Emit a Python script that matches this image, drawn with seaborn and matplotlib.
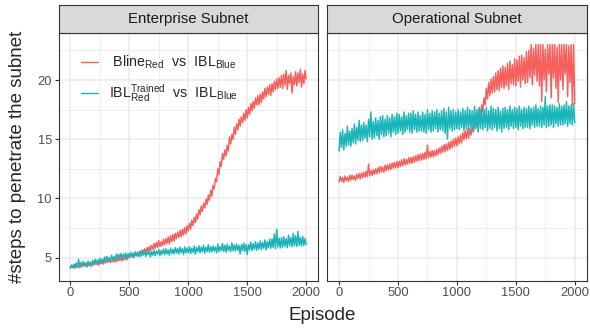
import matplotlib
matplotlib.use("Agg")
import numpy as np
import pandas as pd
import matplotlib.pyplot as plt
import seaborn as sns
from matplotlib.lines import Line2D
from matplotlib.ticker import FixedLocator

# ---------------- data ----------------
episodes = list(range(0, 2001, 10))
subnets = ["Enterprise Subnet", "Operational Subnet"]
settings = ["Bline", "IBLTrained"]
legend_labels = [r" Bline$_{\mathrm{Red}}$  vs  IBL$_{\mathrm{Blue}}$",
                 r"IBL$_{\mathrm{Red}}^{\mathrm{Trained}}$  vs  IBL$_{\mathrm{Blue}}$"]
x_ticks = [0, 500, 1000, 1500, 2000]
y_ticks = [5, 10, 15, 20]

ent_bline = [
    4.12, 4.30, 4.15, 4.25, 4.10, 4.35, 4.18, 4.28, 4.14, 4.38,
    4.22, 4.45, 4.28, 4.40, 4.20, 4.50, 4.30, 4.46, 4.25, 4.55,
    4.38, 4.60, 4.42, 4.58, 4.35, 4.68, 4.48, 4.72, 4.45, 4.75,
    4.55, 4.80, 4.60, 4.85, 4.58, 4.78, 4.65, 4.92, 4.62, 4.88,
    4.70, 4.98, 4.75, 5.05, 4.72, 4.95, 4.82, 5.12, 4.80, 5.08,
    4.98, 5.25, 5.05, 5.35, 5.02, 5.40, 5.15, 5.48, 5.10, 5.55,
    5.30, 5.65, 5.38, 5.75, 5.40, 5.85, 5.52, 5.95, 5.60, 6.05,
    5.70, 6.20, 5.80, 6.30, 5.85, 6.45, 5.95, 6.35, 6.00, 6.55,
    6.10, 6.60, 6.20, 6.75, 6.15, 6.85, 6.35, 6.95, 6.40, 7.05,
    6.60, 7.15, 6.70, 7.30, 6.75, 7.40, 6.90, 7.55, 7.00, 7.70,
    7.25, 7.90, 7.40, 8.15, 7.70, 8.40, 7.95, 8.70, 8.25, 9.05,
    8.60, 9.35, 8.90, 9.60, 9.20, 9.95, 9.50, 10.30, 9.85, 10.70,
    10.20, 11.10, 10.80, 11.70, 11.40, 12.50, 12.00, 13.10, 12.70, 13.80,
    13.30, 14.10, 13.60, 14.50, 14.00, 15.20, 14.60, 15.40, 15.00, 16.00,
    15.40, 16.30, 15.80, 16.70, 16.10, 16.90, 16.40, 17.20, 16.60, 17.50,
    16.80, 17.70, 17.10, 18.00, 17.40, 18.20, 17.60, 18.50, 17.90, 18.70,
    17.90, 18.80, 18.10, 19.00, 18.40, 19.30, 18.60, 19.40, 18.80, 19.60,
    18.70, 19.70, 19.00, 19.90, 19.20, 20.10, 19.30, 20.20, 19.40, 20.40,
    19.30, 20.50, 19.60, 20.80, 19.20, 20.40, 19.70, 20.60, 18.90, 20.30,
    19.60, 20.70, 19.50, 20.60, 19.80, 20.90, 19.40, 20.50, 19.70, 20.80,
    20.10]

ent_ibl = [
    4.10, 4.38, 4.15, 4.45, 4.22, 4.55, 4.20, 4.85, 4.28, 4.60,
    4.30, 4.68, 4.35, 4.58, 4.25, 4.72, 4.40, 4.62, 4.33, 4.78,
    4.50, 4.85, 4.45, 4.80, 4.58, 4.95, 4.52, 4.88, 4.62, 5.05,
    4.72, 5.10, 4.78, 5.02, 4.70, 5.20, 4.85, 5.08, 4.80, 5.30,
    4.92, 5.28, 4.98, 5.35, 4.90, 5.30, 5.02, 5.40, 4.95, 5.32,
    5.05, 5.45, 5.10, 5.38, 5.00, 5.50, 5.15, 5.42, 5.08, 5.55,
    5.12, 5.50, 5.20, 5.62, 5.10, 5.48, 5.25, 5.58, 5.05, 5.52,
    5.20, 5.65, 5.18, 5.55, 5.30, 5.70, 5.15, 5.60, 5.28, 5.72,
    5.25, 5.75, 5.32, 5.65, 5.20, 5.80, 5.35, 5.70, 5.30, 5.85,
    5.38, 5.78, 5.30, 5.88, 5.42, 5.75, 5.25, 5.90, 5.40, 5.82,
    5.40, 5.92, 5.35, 5.80, 5.45, 5.95, 5.30, 5.85, 5.48, 6.00,
    5.42, 5.90, 5.50, 6.05, 5.38, 5.88, 5.52, 6.10, 5.45, 5.92,
    5.48, 6.00, 5.55, 5.90, 5.40, 6.15, 5.50, 5.95, 5.58, 6.20,
    5.52, 6.05, 5.45, 6.12, 5.60, 5.98, 5.50, 6.25, 5.58, 6.08,
    5.55, 6.15, 5.62, 6.05, 5.30, 6.10, 5.60, 6.22, 5.52, 6.12,
    5.25, 6.10, 5.65, 6.30, 5.58, 6.18, 5.70, 6.35, 5.62, 6.25,
    5.72, 6.40, 5.68, 6.28, 5.80, 6.50, 5.65, 6.35, 5.85, 6.55,
    5.78, 6.60, 5.85, 7.00, 5.75, 7.40, 5.90, 6.65, 5.80, 6.70,
    5.88, 6.75, 5.95, 6.60, 5.85, 6.90, 6.00, 6.70, 5.92, 7.05,
    6.00, 6.85, 5.95, 7.20, 6.05, 6.70, 5.98, 6.80, 6.02, 6.60,
    6.10]

ops_bline = [
    11.40, 11.85, 11.45, 11.75, 11.35, 11.90, 11.50, 11.80, 11.42, 11.95,
    11.55, 11.98, 11.60, 11.90, 11.52, 12.05, 11.68, 12.10, 11.65, 12.15,
    11.75, 12.20, 11.80, 12.30, 11.85, 12.90, 11.90, 12.35, 11.95, 12.45,
    12.05, 12.50, 12.10, 12.60, 12.15, 12.70, 12.25, 12.65, 12.20, 12.80,
    12.35, 12.85, 12.40, 12.90, 12.45, 13.00, 12.55, 13.05, 12.60, 13.10,
    12.60, 13.15, 12.70, 13.25, 12.75, 13.35, 12.85, 13.30, 12.90, 13.45,
    12.95, 13.45, 12.98, 13.55, 13.05, 13.60, 13.15, 13.70, 13.20, 13.75,
    13.25, 13.80, 13.30, 13.90, 13.35, 14.50, 13.45, 13.95, 13.50, 14.05,
    13.50, 14.05, 13.60, 14.15, 13.70, 14.25, 13.80, 14.40, 13.90, 14.55,
    13.95, 14.60, 14.05, 14.75, 14.15, 14.85, 14.30, 15.00, 14.40, 15.10,
    14.45, 15.20, 14.60, 15.35, 14.70, 15.55, 14.95, 15.70, 15.05, 15.85,
    15.10, 15.90, 15.35, 16.20, 15.60, 16.70, 16.00, 17.20, 16.50, 17.70,
    16.80, 17.90, 17.30, 18.50, 17.90, 19.30, 18.40, 19.80, 18.70, 20.10,
    18.90, 20.30, 19.00, 20.60, 19.20, 20.80, 19.10, 21.00, 19.40, 21.20,
    19.30, 21.10, 19.50, 21.40, 19.20, 21.60, 19.70, 21.30, 19.60, 21.80,
    19.50, 21.70, 19.90, 22.00, 19.40, 22.10, 20.00, 21.90, 19.70, 22.40,
    19.80, 22.50, 20.20, 23.00, 19.60, 22.70, 20.40, 23.00, 19.90, 23.00,
    19.50, 23.00, 18.20, 23.00, 20.00, 22.60, 19.00, 23.00, 20.50, 23.00,
    18.50, 23.00, 20.20, 23.00, 19.30, 22.80, 18.10, 23.00, 20.00, 23.00,
    19.20, 23.00, 20.50, 23.00, 18.60, 22.90, 19.80, 23.00, 17.90, 23.00,
    18.00]

ops_ibl = [
    14.00, 15.60, 14.30, 15.80, 14.10, 15.50, 14.40, 16.10, 14.50, 15.70,
    14.40, 15.90, 14.70, 16.30, 14.60, 16.00, 14.90, 16.60, 14.80, 16.20,
    14.90, 16.40, 15.10, 16.20, 14.80, 16.70, 15.20, 17.30, 15.00, 16.50,
    15.10, 16.80, 15.30, 16.60, 15.00, 16.90, 15.40, 17.00, 15.20, 16.70,
    15.30, 17.00, 15.50, 16.80, 15.20, 17.10, 15.60, 16.90, 15.40, 17.20,
    15.50, 17.10, 15.70, 16.90, 15.40, 17.30, 15.60, 17.00, 15.80, 17.20,
    15.60, 17.20, 15.50, 17.40, 15.80, 17.10, 15.60, 17.30, 15.70, 17.00,
    15.70, 17.30, 15.60, 17.10, 15.50, 17.50, 15.80, 17.20, 15.60, 17.40,
    15.70, 17.30, 15.90, 17.50, 15.60, 17.20, 15.80, 17.40, 15.70, 17.60,
    15.50, 17.30, 15.00, 17.70, 15.90, 17.40, 15.70, 17.50, 15.80, 17.30,
    15.90, 17.50, 15.80, 17.30, 16.00, 17.60, 15.70, 17.40, 15.90, 17.70,
    15.80, 17.50, 16.00, 17.40, 15.70, 17.80, 15.90, 17.50, 15.60, 17.60,
    15.90, 17.60, 15.80, 17.50, 16.00, 17.70, 15.70, 17.40, 15.90, 17.80,
    15.80, 17.60, 16.00, 17.50, 15.70, 17.70, 15.90, 17.40, 15.60, 17.60,
    15.90, 17.70, 16.00, 17.50, 15.80, 17.80, 16.10, 17.50, 15.90, 17.70,
    16.00, 17.60, 15.80, 17.80, 16.10, 17.50, 15.90, 17.70, 16.00, 17.60,
    16.00, 17.80, 15.90, 17.60, 16.20, 17.70, 16.00, 17.90, 16.10, 17.60,
    16.10, 17.80, 16.00, 17.70, 16.20, 18.60, 16.00, 17.80, 16.10, 17.90,
    16.20, 17.90, 16.00, 17.80, 16.30, 17.70, 16.10, 18.00, 16.20, 17.80,
    16.20, 17.90, 16.30, 18.20, 16.10, 17.80, 16.30, 17.90, 16.20, 18.00,
    16.40]

# ---------------- styling ----------------
sns.set_style("white")
plt.rcParams["font.family"] = ["Liberation Sans", "DejaVu Sans"]
plt.rcParams["mathtext.fontset"] = "custom"
plt.rcParams["mathtext.rm"] = "Liberation Sans"
plt.rcParams["mathtext.it"] = "Liberation Sans:italic"
plt.rcParams["mathtext.bf"] = "Liberation Sans:bold"

palette = {"Bline": "#F5605C", "IBLTrained": "#19B6B9"}
dark = "#333333"

frames = []
for sub, series in zip(subnets, [(ent_bline, ent_ibl), (ops_bline, ops_ibl)]):
    for setting, vals in zip(settings, series):
        frames.append(pd.DataFrame({"Episode": episodes, "Steps": vals,
                                    "Setting": setting, "Subnet": sub}))
df = pd.concat(frames, ignore_index=True)

W, H = 590, 330
fig = plt.figure(figsize=(W / 100, H / 100), dpi=100)

panel_top, panel_bot = 33.3, 280.7
strip_top = 5.0
panels_x = [(58.5, 318.0), (327.3, 586.5)]

axes = []
for i, (sub, (x0, x1)) in enumerate(zip(subnets, panels_x)):
    ax = fig.add_axes([x0 / W, 1 - panel_bot / H, (x1 - x0) / W, (panel_bot - panel_top) / H])
    d = df[df["Subnet"] == sub]
    sns.lineplot(data=d, x="Episode", y="Steps", hue="Setting", hue_order=settings,
                 palette=palette, estimator=None, errorbar=None, linewidth=1.05,
                 legend=False, ax=ax)
    ax.set_xlim(-100, 2100)
    ax.set_ylim(3.05, 23.95)
    ax.xaxis.set_major_locator(FixedLocator(x_ticks))
    ax.yaxis.set_major_locator(FixedLocator(y_ticks))
    ax.xaxis.set_minor_locator(FixedLocator([250, 750, 1250, 1750]))
    ax.yaxis.set_minor_locator(FixedLocator([7.5, 12.5, 17.5, 22.5]))
    ax.grid(which="major", color="#EBEBEB", linewidth=1.1)
    ax.grid(which="minor", color="#EBEBEB", linewidth=0.55)
    ax.set_axisbelow(True)
    ax.set_xlabel("")
    ax.set_ylabel("")
    for sp in ax.spines.values():
        sp.set_color(dark)
        sp.set_linewidth(0.8)
    ax.tick_params(which="minor", length=0)
    ax.tick_params(which="major", length=2.7, width=0.8, color=dark,
                   labelcolor="#4D4D4D", labelsize=9.3, pad=2, direction="out",
                   bottom=True, left=True)
    if i == 1:
        ax.tick_params(axis="y", left=False, labelleft=False)
    # strip
    sax = fig.add_axes([x0 / W, 1 - panel_top / H, (x1 - x0) / W, (panel_top - strip_top) / H])
    sax.set_facecolor("#D9D9D9")
    sax.set_xticks([])
    sax.set_yticks([])
    for sp in sax.spines.values():
        sp.set_color(dark)
        sp.set_linewidth(0.8)
    sax.text(0.5, 0.5, sub, ha="center", va="center", fontsize=10.8,
             color="#1A1A1A", transform=sax.transAxes)
    axes.append(ax)

handles = [Line2D([], [], color=palette[s], linewidth=1.0) for s in settings]
leg = axes[0].legend(handles, legend_labels, loc="upper left",
                     bbox_to_anchor=(0.0867, 0.918), frameon=False, fontsize=10.3,
                     handlelength=1.17, handletextpad=0.8, labelspacing=0.8,
                     borderpad=0, borderaxespad=0)

fig.text(322.5 / W, 1 - 316 / H, "Episode", ha="center", va="center", fontsize=13.5)
fig.text(18 / W, 1 - 157 / H, "#steps to penetrate the subnet", ha="center",
         va="center", rotation=90, fontsize=13.5)

fig.savefig("out.png", dpi=100)
